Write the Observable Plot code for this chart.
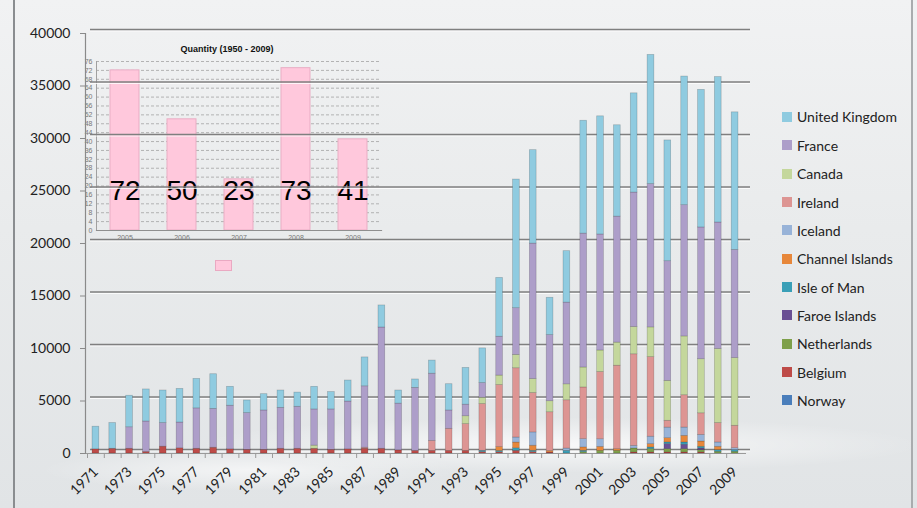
<!DOCTYPE html>
<html><head><meta charset="utf-8">
<script src="https://cdn.jsdelivr.net/npm/d3@7"></script>
<script src="https://cdn.jsdelivr.net/npm/@observablehq/plot@0.6"></script>
<style>
html,body{margin:0;padding:0;}
body{width:917px;height:508px;overflow:hidden;font-family:Lato,"Open Sans",sans-serif;}
#wrap{position:relative;width:917px;height:508px;overflow:hidden;
 background:
  radial-gradient(ellipse 520px 40px at 560px 445px, rgba(255,255,255,0.75), rgba(255,255,255,0) 70%),
  radial-gradient(ellipse 300px 30px at 250px 470px, rgba(255,255,255,0.6), rgba(255,255,255,0) 70%),
  linear-gradient(180deg,#f1f2f3 0%,#e9ebec 45%,#e1e4e6 100%);}
#edgeL{position:absolute;left:13px;top:0;width:1.5px;height:508px;background:#8a8d90;}
#edgeR{position:absolute;left:911px;top:0;width:1.5px;height:508px;background:#a9acae;}
#wrap svg{position:absolute;left:0;top:0;}
#legend{position:absolute;left:782px;top:102.8px;}
.li{height:28.35px;display:flex;align-items:center;font-size:14px;color:#222;white-space:nowrap;}
.sw{width:10px;height:10px;margin-right:5px;flex:none;}
#pinkkey{position:absolute;left:215px;top:260px;width:15px;height:9px;background:#ffc8dc;border:1px solid #eaa9c2;}
</style></head>
<body><div id="wrap"><div id="edgeL"></div><div id="edgeR"></div></div>
<script>
// ---------- data ----------
const years = ["1971","1972","1973","1974","1975","1976","1977","1978","1979","1980",
 "1981","1982","1983","1984","1985","1986","1987","1988","1989","1990",
 "1991","1992","1993","1994","1995","1996","1997","1998","1999","2000",
 "2001","2002","2003","2004","2005","2006","2007","2008","2009"];
const labelYears = ["1971","1973","1975","1977","1979","1981","1983","1985","1987","1989",
 "1991","1993","1995","1997","1999","2001","2003","2005","2007","2009"];
const yTicks = [0,5000,10000,15000,20000,25000,30000,35000,40000];

const norway        = [0,0,0,0,0,0,0,0,0,0, 0,0,0,0,0,0,0,0,0,0, 0,0,0,0,0,0,0,0,0,0, 0,0,0,0,0,0,0,0,0];
const belgium       = [400,450,450,150,650,500,450,550,400,350, 350,450,450,450,350,400,450,450,300,250, 250,250,250,130,120,250,130,100,0,0, 0,0,100,100,100,100,100,0,0];
const netherlands   = [0,0,0,0,0,0,0,0,0,0, 0,0,0,0,0,0,0,0,0,0, 0,0,0,0,0,0,0,0,0,130, 250,250,380,320,320,320,220,160,160];
const faroe         = [0,0,0,0,0,0,0,0,0,0, 0,0,0,0,0,0,0,0,0,0, 0,0,0,0,0,0,0,0,0,0, 0,0,0,0,475,410,160,0,0];
const isleOfMan     = [0,0,0,0,0,0,0,0,0,0, 0,0,0,0,0,0,0,0,0,0, 0,0,0,130,120,250,130,0,250,130, 0,0,0,160,160,220,160,160,160];
const channel       = [0,0,0,0,0,0,0,0,0,0, 0,0,0,0,0,0,0,0,0,0, 0,0,0,0,380,540,480,130,0,320, 380,160,0,320,410,630,500,320,0];
const iceland       = [0,0,0,0,0,0,0,0,0,0, 0,0,0,0,0,0,0,0,0,0, 0,0,0,0,0,480,1270,0,220,790, 730,0,250,700,1000,790,630,410,190];
const ireland       = [0,0,0,0,0,0,0,0,0,0, 0,0,0,0,0,0,100,0,0,0, 950,2100,2550,4450,5900,6600,3750,3700,4600,4920, 6400,7950,8720,7580,650,3080,2060,1850,2130];
const canada        = [0,0,0,0,0,0,0,0,0,0, 0,0,0,300,0,0,0,0,0,0, 0,0,750,600,900,1270,1330,1050,1520,1900, 2050,2200,2600,2830,3800,5600,5150,7050,6450];
const france        = [0,0,2050,2900,2250,2450,3850,3700,4150,3500, 3750,3900,4000,3450,3850,4550,5850,11550,4450,6000, 6400,1750,1100,1400,3700,4450,12900,6300,7780,12750, 11050,12000,12800,13650,11400,12500,12550,12050,10300];
const unitedKingdom = [2150,2450,3000,3050,3100,3200,2800,3300,1800,1200, 1550,1650,1350,2150,1650,2000,2750,2100,1250,800, 1250,2500,3500,3300,5600,12250,8900,3550,4900,10750, 11250,8700,9450,12300,11500,12250,13100,13850,13100];

const seriesNames = ["Norway","Belgium","Netherlands","Faroe Islands","Isle of Man","Channel Islands","Iceland","Ireland","Canada","France","United Kingdom"];
const seriesColors = ["#4a7ebb","#be4b48","#7ea04a","#6a4f94","#3a9fb7","#e7873a","#98b3d8","#dd9593","#c4d79c","#ad9ec9","#8fcbe0"];

const insetYears = ["2005","2006","2007","2008","2009"];
const insetValues = [72,50,23,73,41];
const insetTicks = [0,4,8,12,16,20,24,28,32,36,40,44,48,52,56,60,64,68,72,76];
const insetTitle = "Quantity (1950 - 2009)";

// ---------- build ----------
const allSeries = [norway,belgium,netherlands,faroe,isleOfMan,channel,iceland,ireland,canada,france,unitedKingdom];
const data = [];
years.forEach((yr,i)=>seriesNames.forEach((s,j)=>data.push({year:yr, series:s, value:allSeries[j][i]})));
const inset = insetYears.map((y,i)=>({year:y, value:insetValues[i]}));

const wrap = document.getElementById("wrap");
const FONT = "Lato, 'Open Sans', sans-serif";

// inset chart (drawn underneath)
const insetPlot = Plot.plot({
  width:917, height:508,
  marginLeft:96, marginRight:536, marginTop:61, marginBottom:278,
  style:{background:"transparent", fontFamily:"'Liberation Sans', Arial, sans-serif", overflow:"visible"},
  x:{type:"band", domain:insetYears, paddingInner:0.5, paddingOuter:0.25},
  y:{domain:[0,76]},
  marks:[
    Plot.ruleY(insetTicks.filter(d=>d>0), {stroke:"#a3a3a3", strokeWidth:0.8, strokeDasharray:"3,2"}),
    Plot.barY(inset, {x:"year", y:"value", fill:"#ffc8dc", stroke:"#e9adc4", strokeWidth:1}),
    Plot.frame({anchor:"left", stroke:"#a0a0a0"}),
    Plot.frame({anchor:"bottom", stroke:"#8f8f8f", strokeWidth:1.2}),
    Plot.axisY({ticks:insetTicks, tickSize:0, tickPadding:4, fontSize:7, fill:"#777", label:null}),
    Plot.axisX({tickSize:0, tickPadding:5, fontSize:7, fill:"#777", label:null}),
    Plot.text(inset, {x:"year", text:d=>String(d.value), frameAnchor:"bottom", dy:-31, fontSize:28, fill:"#000"}),
    Plot.text([insetTitle], {frameAnchor:"top", dy:-16, dx:-12, fontSize:9, fontWeight:"bold", fill:"#111"})
  ]
});
wrap.appendChild(insetPlot);

// main chart
const mainPlot = Plot.plot({
  width:917, height:508,
  marginLeft:87, marginRight:174, marginTop:33, marginBottom:55,
  style:{background:"transparent", fontFamily:FONT, fontSize:"14px", color:"#222", overflow:"visible"},
  x:{type:"band", domain:years, paddingInner:0.6, paddingOuter:0.3},
  y:{domain:[0,40000]},
  color:{domain:seriesNames, range:seriesColors},
  marks:[
    Plot.ruleY(yTicks, {stroke:"#ffffff", strokeOpacity:0.8, strokeWidth:1.2, dy:-2.5, insetLeft:3, insetRight:-7}),
    Plot.ruleY(yTicks, {stroke:"#7f7f7f", strokeWidth:1.5, dy:-4, insetLeft:3, insetRight:-7}),
    Plot.ruleY([0], {stroke:"#9a9a9a", strokeWidth:1.2, insetLeft:-2, insetRight:-3}),
    Plot.frame({anchor:"left", dx:-2, stroke:"#8a8a8a", strokeWidth:1.2}),
    Plot.axisY({ticks:yTicks, tickSize:5, tickPadding:10, tickFormat:d=>String(d), stroke:"#8a8a8a", fill:"#222", fontSize:14, label:null, dx:-2}),
    Plot.barY(data.filter(d=>d.value>0), {x:"year", y:"value", fill:"series", stroke:"rgba(0,0,0,0.22)", strokeWidth:0.7}),
    Plot.axisX(years, {tickSize:5, tickFormat:()=>"", dx:-8.41, stroke:"#9a9a9a", label:null}),
    Plot.axisX(labelYears, {tickSize:0, tickPadding:16, tickRotate:-45, fontSize:14, fill:"#222", label:null})
  ]
});
wrap.appendChild(mainPlot);

// legend (top series first)
const legend = document.createElement("div");
legend.id = "legend";
seriesNames.slice().reverse().forEach(name=>{
  const row = document.createElement("div"); row.className = "li";
  const sw = document.createElement("div"); sw.className = "sw";
  sw.style.background = seriesColors[seriesNames.indexOf(name)];
  const tx = document.createElement("span"); tx.textContent = name;
  row.appendChild(sw); row.appendChild(tx); legend.appendChild(row);
});
wrap.appendChild(legend);
const pk = document.createElement("div"); pk.id = "pinkkey"; wrap.appendChild(pk);
</script>
</body></html>
